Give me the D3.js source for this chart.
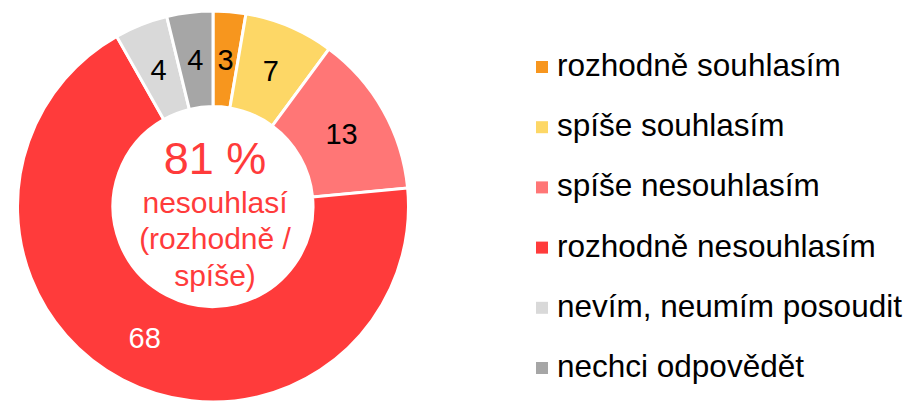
<!DOCTYPE html>
<html>
<head>
<meta charset="utf-8">
<script src="https://cdn.jsdelivr.net/npm/d3@7"></script>
<style>
  body { margin: 0; background: #fff; }
  text { font-family: "Liberation Sans", Arial, sans-serif; }
</style>
</head>
<body>
<div id="chart"></div>
<script>
const categories = [
    "rozhodně souhlasím",
    "spíše souhlasím",
    "spíše nesouhlasím",
    "rozhodně nesouhlasím",
    "nevím, neumím posoudit",
    "nechci odpovědět"
];
// shares in %; labels show rounded values
const values = [2.7, 7.4, 13.4, 68.3, 4.4, 3.8];
const colors = ["#F7961E", "#FDD766", "#FF7676", "#FF3B3B", "#D9D9D9", "#A6A6A6"];
const labelColors = ["#000", "#000", "#000", "#fff", "#000", "#000"];
const centerLines = ["nesouhlasí", "(rozhodně /", "spíše)"];
const centerValue = "81 %";

const width = 910, height = 403;
const cx = 213, cy = 206.5;
const outerR = 195.5, innerR = 100;

const svg = d3.select('#chart').append('svg')
    .attr('width', width)
    .attr('height', height);

const pie = d3.pie().sort(null).value(d => d);
const arc = d3.arc().innerRadius(innerR).outerRadius(outerR);
const arcs = pie(values);

const g = svg.append('g').attr('transform', 'translate(' + cx + ',' + cy + ')');

g.selectAll('path')
    .data(arcs).enter()
    .append('path')
    .attr('d', arc)
    .attr('fill', (d, i) => colors[i])
    .attr('stroke', '#fff')
    .attr('stroke-width', 3)
    .attr('stroke-linejoin', 'miter');

g.selectAll('text.val')
    .data(arcs).enter()
    .append('text')
    .attr('class', 'val')
    .attr('transform', d => 'translate(' + arc.centroid(d) + ')')
    .attr('dy', '0.36em')
    .attr('text-anchor', 'middle')
    .attr('font-size', 29)
    .attr('fill', (d, i) => labelColors[i])
    .text(d => Math.round(d.data));

// center text
g.append('text')
    .attr('x', 2)
    .attr('y', -33)
    .attr('text-anchor', 'middle')
    .attr('font-size', 45)
    .attr('fill', '#FF3B3B')
    .text(centerValue);

g.selectAll('text.sub')
    .data(centerLines).enter()
    .append('text')
    .attr('class', 'sub')
    .attr('x', 2)
    .attr('y', (d, i) => 6 + i * 36.5)
    .attr('text-anchor', 'middle')
    .attr('font-size', 30)
    .attr('fill', '#FF3B3B')
    .text(d => d);

// legend
const legend = svg.append('g').attr('transform', 'translate(536,76)');
const rows = legend.selectAll('g')
    .data(categories).enter()
    .append('g')
    .attr('transform', (d, i) => 'translate(0,' + i * 60.2 + ')');

rows.append('rect')
    .attr('x', 0)
    .attr('y', -15)
    .attr('width', 12)
    .attr('height', 12)
    .attr('fill', (d, i) => colors[i]);

rows.append('text')
    .attr('x', 21)
    .attr('y', 0)
    .attr('font-size', 31.5)
    .attr('fill', '#000')
    .text(d => d);
</script>
</body>
</html>
